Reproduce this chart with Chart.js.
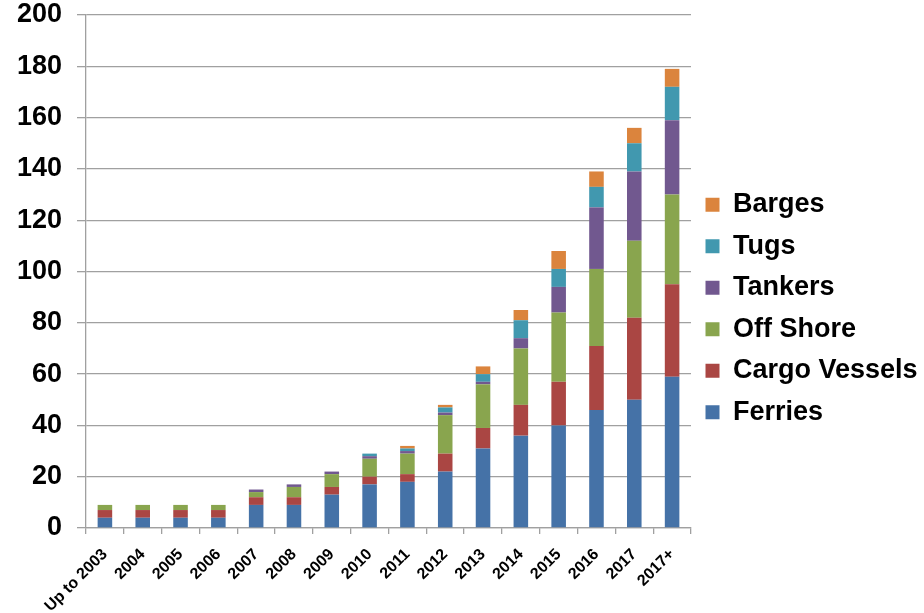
<!DOCTYPE html>
<html>
<head>
<meta charset="utf-8">
<script src="https://cdn.jsdelivr.net/npm/chart.js@4/dist/chart.umd.min.js"></script>
<style>
  html, body { margin: 0; padding: 0; background: #ffffff; }
  #wrap { width: 924px; height: 613px; position: relative; }
</style>
</head>
<body>
<div id="wrap"><canvas id="chart" width="924" height="613"></canvas></div>
<script>
// Vessel counts per delivery year, stacked by vessel type
const categories = ['Up to 2003', '2004', '2005', '2006', '2007', '2008', '2009', '2010',
                    '2011', '2012', '2013', '2014', '2015', '2016', '2017', '2017+'];
const ferries  = [4, 4, 4, 4, 9, 9, 13, 17, 18, 22, 31, 36, 40, 46, 50, 59];
const cargo    = [3, 3, 3, 3, 3, 3, 3, 3, 3, 7, 8, 12, 17, 25, 32, 36];
const offShore = [2, 2, 2, 2, 2, 4, 5, 7, 8, 15, 17, 22, 27, 30, 30, 35];
const tankers  = [0, 0, 0, 0, 1, 1, 1, 1, 1, 1, 1, 4, 10, 24, 27, 29];
const tugs     = [0, 0, 0, 0, 0, 0, 0, 1, 1, 2, 3, 7, 7, 8, 11, 13];
const barges   = [0, 0, 0, 0, 0, 0, 0, 0, 1, 1, 3, 4, 7, 6, 6, 7];
const yTicks   = [0, 20, 40, 60, 80, 100, 120, 140, 160, 180, 200];

const seriesNames  = ['Ferries', 'Cargo Vessels', 'Off Shore', 'Tankers', 'Tugs', 'Barges'];
const seriesValues = [ferries, cargo, offShore, tankers, tugs, barges];
const seriesColors = ['#4572A7', '#AA4643', '#89A54E', '#71588F', '#4198AF', '#DB843D'];

const gridColor = '#a0a0a0';
const fontFamily = 'Liberation Sans, Arial, sans-serif';

// Give the legend column a fixed width so the plot ends where it should
const legendWidth = {
  id: 'legendWidth',
  beforeLayout(chart) {
    const lg = chart.legend;
    if (lg && !lg._fixedWidth) {
      const fit = lg.fit;
      lg.fit = function () { fit.call(this); this.width = 233; };
      lg._fixedWidth = true;
    }
  }
};

new Chart(document.getElementById('chart'), {
  type: 'bar',
  data: {
    labels: categories,
    datasets: seriesNames.map((name, i) => ({
      label: name,
      data: seriesValues[i],
      backgroundColor: seriesColors[i],
      borderWidth: 0,
      categoryPercentage: 1,
      barPercentage: 0.385
    }))
  },
  plugins: [legendWidth],
  options: {
    responsive: false,
    animation: false,
    devicePixelRatio: 1,
    layout: { padding: { left: 17, top: 4, right: 0, bottom: 0 } },
    plugins: {
      tooltip: { enabled: false },
      title: { display: false },
      legend: {
        position: 'right',
        reverse: true,
        labels: {
          color: '#000000',
          boxWidth: 14,
          boxHeight: 14,
          padding: 14.5,
          font: { family: fontFamily, size: 27, weight: 'bold' }
        }
      }
    },
    scales: {
      x: {
        stacked: true,
        afterFit: (scale) => { scale.paddingLeft = 0; scale.paddingRight = 0; scale.height = 85; },
        border: { color: gridColor, width: 1.3 },
        grid: { display: true, drawOnChartArea: false, drawTicks: true, tickLength: 6, offset: true, color: gridColor, lineWidth: 1.3 },
        ticks: {
          color: '#000000',
          minRotation: 45,
          maxRotation: 45,
          padding: 11,
          autoSkip: false,
          font: { family: fontFamily, size: 16, weight: 'bold' }
        }
      },
      y: {
        stacked: true,
        min: 0,
        max: 200,
        afterBuildTicks: (axis) => { axis.ticks = yTicks.map(v => ({ value: v })); },
        afterFit: (scale) => { scale.paddingTop = 15; scale.width = 69; },
        border: { color: gridColor, width: 1.3 },
        grid: { color: gridColor, lineWidth: 1.3, tickLength: 9, drawTicks: true },
        ticks: {
          color: '#000000',
          padding: 15,
          font: { family: fontFamily, size: 27, weight: 'bold' }
        }
      }
    }
  }
});
</script>
</body>
</html>
